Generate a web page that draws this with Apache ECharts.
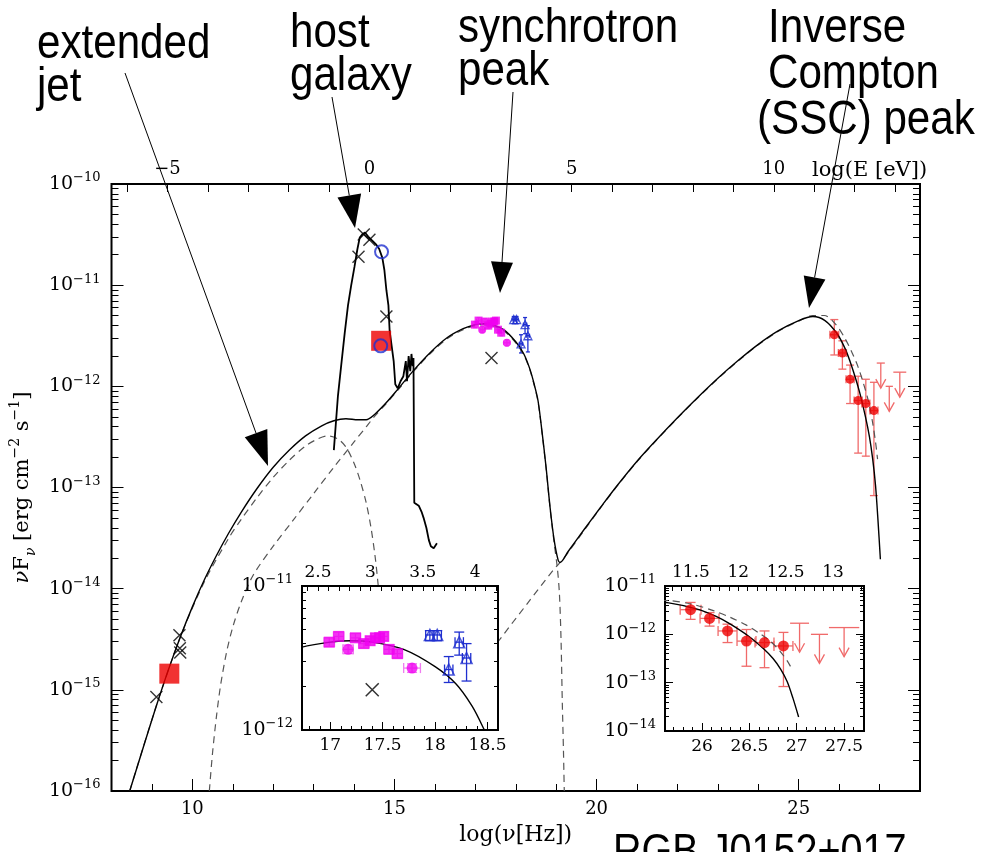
<!DOCTYPE html>
<html>
<head>
<meta charset="utf-8">
<title>RGB J0152+017</title>
<script src="https://cdn.jsdelivr.net/npm/echarts@6.0.0/dist/echarts.min.js"></script>
<style>
  html, body { margin: 0; padding: 0; background: #fff; }
  #chart { width: 990px; height: 852px; }
</style>
</head>
<body>
<div id="chart"></div>
<script>
// every pair is [log(nu / Hz), log(nuFnu / erg cm-2 s-1)]
const LOG_H_EV = -14.383 // log(E/eV) = log(nu/Hz) + LOG_H_EV

const totalModel = [
  [8.45, -16.0], [8.8, -15.55], [9.1, -15.17], [9.4, -14.81], [9.7, -14.48], [10.0, -14.18],
  [10.3, -13.91], [10.6, -13.67], [10.9, -13.45], [11.2, -13.25], [11.6, -13.01], [12.0, -12.8],
  [12.4, -12.63], [12.8, -12.49], [13.2, -12.39], [13.5, -12.34], [13.8, -12.32], [14.1, -12.33],
  [14.3, -12.33], [14.5, -12.28], [14.8, -12.16], [15.1, -12.02], [15.5, -11.83], [15.9, -11.66],
  [16.3, -11.52], [16.7, -11.43], [17.0, -11.39], [17.2, -11.38], [17.4, -11.39], [17.7, -11.44],
  [18.0, -11.56], [18.2, -11.68], [18.35, -11.83], [18.45, -11.97], [18.55, -12.14], [18.65, -12.45],
  [18.75, -12.8], [18.85, -13.2], [18.95, -13.52], [19.05, -13.72], [19.1, -13.74], [19.3, -13.63],
  [19.7, -13.41], [20.1, -13.195], [20.5, -12.985], [21.0, -12.74], [21.5, -12.52], [22.0, -12.31],
  [22.5, -12.11], [23.0, -11.92], [23.5, -11.745], [24.0, -11.585], [24.5, -11.45], [25.0, -11.35],
  [25.35, -11.31], [25.65, -11.35], [25.95, -11.48], [26.15, -11.63], [26.3, -11.79], [26.5, -12.05],
  [26.65, -12.3], [26.75, -12.5], [26.83, -12.72], [26.9, -12.98], [26.96, -13.32], [27.02, -13.71]
]
const extJetModel = [
  [8.45, -16.0], [9.1, -15.17], [9.7, -14.48], [10.3, -13.93], [10.9, -13.5], [11.2, -13.32],
  [11.6, -13.1], [12.0, -12.9], [12.4, -12.73], [12.8, -12.59], [13.1, -12.52], [13.35, -12.49],
  [13.6, -12.52], [13.8, -12.6], [14.0, -12.76], [14.15, -12.93], [14.3, -13.15], [14.42, -13.4],
  [14.52, -13.68], [14.6, -13.98], [14.68, -14.35], [14.75, -14.8]
]
const coreSyncModel = [
  [10.42, -16.0], [10.5, -15.62], [10.6, -15.25], [10.7, -14.95], [10.85, -14.62], [11.0, -14.38],
  [11.2, -14.14], [11.5, -13.87], [12.0, -13.58], [12.5, -13.32], [13.0, -13.06], [13.5, -12.8],
  [14.0, -12.55], [14.3, -12.4], [14.5, -12.3], [14.8, -12.17], [15.1, -12.03], [15.5, -11.84],
  [15.9, -11.67], [16.3, -11.53], [16.7, -11.44], [17.0, -11.4], [17.2, -11.39], [17.4, -11.4],
  [17.7, -11.45], [18.0, -11.57], [18.2, -11.69], [18.35, -11.84], [18.45, -11.98], [18.55, -12.15],
  [18.65, -12.46], [18.75, -12.81], [18.85, -13.21], [18.95, -13.55], [19.03, -13.8], [19.08, -14.05],
  [19.12, -14.5], [19.15, -15.1], [19.18, -15.6], [19.2, -16.0]
]
const sscModel = [
  [16.3, -15.2], [17.0, -14.83], [17.59, -14.51], [18.3, -14.14], [18.94, -13.81], [19.1, -13.74],
  [19.3, -13.64], [19.7, -13.42], [20.1, -13.2], [20.5, -12.99], [21.0, -12.745], [21.5, -12.525],
  [22.0, -12.315], [22.5, -12.115], [23.0, -11.925], [23.5, -11.75], [24.0, -11.59], [24.5, -11.455],
  [25.0, -11.355], [25.35, -11.3], [25.63, -11.3], [25.9, -11.38], [26.12, -11.51], [26.3, -11.65],
  [26.47, -11.81], [26.6, -11.97], [26.72, -12.14], [26.82, -12.34], [26.9, -12.55], [26.95, -12.72]
]
const hostSpectrum = [
  [13.5, -12.63], [13.6, -12.1], [13.68, -11.8], [13.77, -11.47], [13.85, -11.2], [13.93, -11.0],
  [14.01, -10.82], [14.08, -10.65], [14.14, -10.53], [14.2, -10.5], [14.27, -10.48], [14.35, -10.52],
  [14.45, -10.56], [14.55, -10.6], [14.62, -10.64], [14.7, -10.73], [14.75, -10.85], [14.8, -11.05],
  [14.85, -11.2], [14.88, -11.45], [14.93, -11.6], [14.98, -11.75], [15.02, -11.98], [15.08, -12.02],
  [15.15, -11.95], [15.22, -11.9], [15.28, -11.75], [15.31, -11.95], [15.35, -11.7], [15.39, -11.85],
  [15.42, -11.68], [15.45, -11.8], [15.47, -11.72], [15.49, -13.15], [15.6, -13.18], [15.67, -13.24],
  [15.72, -13.3], [15.79, -13.4], [15.85, -13.52], [15.9, -13.58], [15.97, -13.6], [16.05, -13.55]
]
const crossPoints = [
  [9.11, -15.07], [9.68, -14.46], [9.69, -14.59], [9.7, -14.63],
  [14.24, -10.5], [14.38, -10.55], [14.11, -10.72], [14.8, -11.31], [17.4, -11.72]
]
const openCircles = [[14.68, -10.67], [14.66, -11.6]]
const redSquares = [[9.43, -14.84], [14.67, -11.55]]
// rows: [log nu, log nuFnu, half width in log nu, lower, upper]
const xraySquares = [
  [16.99, -11.39, 0.05, -11.42, -11.36], [17.08, -11.35, 0.05, -11.38, -11.32],
  [17.24, -11.36, 0.05, -11.39, -11.33], [17.32, -11.4, 0.05, -11.43, -11.37],
  [17.38, -11.38, 0.04, -11.41, -11.35], [17.43, -11.36, 0.04, -11.39, -11.33],
  [17.47, -11.36, 0.04, -11.39, -11.33], [17.51, -11.35, 0.04, -11.38, -11.32],
  [17.56, -11.44, 0.05, -11.47, -11.41], [17.64, -11.47, 0.05, -11.5, -11.44]
]
const xrayCircles = [[17.17, -11.44, 0.05, -11.47, -11.41], [17.78, -11.57, 0.08, -11.6, -11.54]]
const hardXray = [
  [17.95, -11.34, 0.04, -11.38, -11.31], [18.02, -11.34, 0.04, -11.38, -11.31],
  [18.13, -11.58, 0.04, -11.67, -11.49], [18.23, -11.39, 0.04, -11.48, -11.32],
  [18.3, -11.5, 0.04, -11.66, -11.4]
]
const gammaPoints = [
  [25.88, -11.49, 0.11, -11.69, -11.34], [26.08, -11.67, 0.1, -11.83, -11.55],
  [26.27, -11.93, 0.1, -12.17, -11.79], [26.47, -12.14, 0.1, -12.66, -11.9],
  [26.66, -12.17, 0.1, -12.69, -11.93], [26.86, -12.24, 0.1, -13.08, -11.96]
]
// rows: [log nu, upper limit, half width]
const gammaUpper = [[27.03, -11.77, 0.1], [27.24, -12.0, 0.09], [27.5, -11.86, 0.16]]

// tick labels
const nuLabelsMain = [10, 15, 20, 25]
const eLabelsMain = [-5, 0, 5, 10]
const nuLabelsIn1 = [17, 17.5, 18, 18.5]
const eLabelsIn1 = [2.5, 3, 3.5, 4]
const nuLabelsIn2 = [26, 26.5, 27, 27.5]
const eLabelsIn2 = [11.5, 12, 12.5, 13]
const decadesMain = [-16, -15, -14, -13, -12, -11, -10]
const decadesIn1 = [-12, -11]
const decadesIn2 = [-14, -13, -12, -11]

const SERIF = 'DejaVu Serif'
const SANS = 'Liberation Sans'
const MAGENTA = '#f000f0', MAGENTA_ERR = '#f07cf0'
const BLUE = '#1f2fd0'
const RED = '#ee0000', RED_ERR = '#f06a6a'

const steps = (a, b, s) => { const out = []; for (let v = a; v <= b + 1e-9; v += s) out.push(+v.toFixed(3)); return out }
const logMinor = (lo, hi) => { const out = []; for (let n = lo; n < hi; n++) for (let k = 2; k <= 9; k++) out.push(n + Math.log10(k)); return out }
const minus = v => String(v).replace('-', '−')
const powLabel = v => '{b|10}{s|−' + Math.round(-v) + '}'
const powRich = {
  b: { fontFamily: SERIF, fontSize: 19, color: '#000', lineHeight: 25 },
  s: { fontFamily: SERIF, fontSize: 13, color: '#000', lineHeight: 13, verticalAlign: 'top' }
}

function ax(o) {
  return Object.assign({
    type: 'value', splitLine: { show: false },
    axisLine: { show: false, onZero: false },
    axisTick: { show: false }, axisLabel: { show: false }
  }, o)
}
function ticks(values, len) {
  return { show: true, inside: true, length: len, customValues: values, lineStyle: { color: '#000', width: 1 } }
}
function labels(values, size, margin, fmt, rich) {
  return { show: true, customValues: values, fontFamily: SERIF, fontSize: size, color: '#000', margin, formatter: fmt || minus, rich }
}
// one set of axes (bottom, top in eV, left, right) for a grid
function frameAxes(g, xr, yr, o) {
  const xs = [
    ax({ gridIndex: g, min: xr[0], max: xr[1], position: 'bottom', z: o.z, axisTick: ticks(o.nuMajor, o.major), axisLabel: labels(o.nuLabels, o.fs, o.xm) }),
    ax({ gridIndex: g, min: xr[0], max: xr[1], position: 'bottom', z: o.z, axisTick: ticks(o.nuMinor, o.minor) }),
    ax({ gridIndex: g, min: xr[0] + LOG_H_EV, max: xr[1] + LOG_H_EV, position: 'top', z: o.z, axisTick: ticks(o.eTicks, o.minor + 1), axisLabel: labels(o.eLabels, o.fs, o.tm) })
  ]
  const ys = [
    ax({ gridIndex: g, min: yr[0], max: yr[1], position: 'left', z: o.z, axisTick: ticks(o.decades, o.major), axisLabel: labels(o.decades, 19, o.ym, powLabel, powRich) }),
    ax({ gridIndex: g, min: yr[0], max: yr[1], position: 'left', z: o.z, axisTick: ticks(logMinor(yr[0], yr[1]), o.minor) }),
    ax({ gridIndex: g, min: yr[0], max: yr[1], position: 'right', z: o.z, axisTick: ticks(o.decades, o.major) }),
    ax({ gridIndex: g, min: yr[0], max: yr[1], position: 'right', z: o.z, axisTick: ticks(logMinor(yr[0], yr[1]), o.minor) })
  ]
  return { xs, ys }
}

const mainAx = frameAxes(0, [8, 28], [-16, -10], {
  z: 0, nuMajor: nuLabelsMain, nuMinor: steps(8, 28, 1), nuLabels: nuLabelsMain, eTicks: steps(-6, 13, 1), eLabels: eLabelsMain,
  decades: decadesMain, major: 12, minor: 7, fs: 18, xm: 9, tm: 6, ym: 11
})
const in1Ax = frameAxes(1, [16.73, 18.6], [-12, -11], {
  z: 6, nuMajor: nuLabelsIn1, nuMinor: steps(16.8, 18.6, 0.1), nuLabels: nuLabelsIn1, eTicks: steps(2.4, 4.2, 0.1), eLabels: eLabelsIn1,
  decades: decadesIn1, major: 8, minor: 4, fs: 17, xm: 7, tm: 5, ym: 9
})
const in2Ax = frameAxes(2, [25.61, 27.71], [-14, -11], {
  z: 6, nuMajor: nuLabelsIn2, nuMinor: steps(25.7, 27.7, 0.1), nuLabels: nuLabelsIn2, eTicks: steps(11.3, 13.3, 0.1), eLabels: eLabelsIn2,
  decades: decadesIn2, major: 8, minor: 4, fs: 17, xm: 7, tm: 5, ym: 9
})
mainAx.xs[0].name = 'log(ν[Hz])'
mainAx.xs[0].nameLocation = 'middle'
mainAx.xs[0].nameGap = 33
mainAx.xs[0].nameTextStyle = { fontFamily: SERIF, fontSize: 22, color: '#000' }
mainAx.ys[0].name = '{n|ν}F{sub|ν} [erg cm{sup|−2} s{sup|−1}]'
mainAx.ys[0].nameLocation = 'middle'
mainAx.ys[0].nameGap = 72
mainAx.ys[0].nameTextStyle = {
  fontFamily: SERIF, fontSize: 21, color: '#000', lineHeight: 30,
  rich: {
    n: { fontFamily: SERIF, fontSize: 21, fontStyle: 'italic', color: '#000' },
    sub: { fontFamily: SERIF, fontSize: 14, fontStyle: 'italic', color: '#000', lineHeight: 14, verticalAlign: 'bottom' },
    sup: { fontFamily: SERIF, fontSize: 14, color: '#000', lineHeight: 14, verticalAlign: 'top' }
  }
}

// axis index bases: main x 0..2 / y 0..3, inset1 x 3..5 / y 4..7, inset2 x 6..8 / y 8..11
const panes = [{ x: 0, y: 0, z: 2 }, { x: 3, y: 4, z: 7 }, { x: 6, y: 8, z: 7 }]

function errRenderer(color, cap) {
  return function (params, api) {
    const x = api.value(0), y = api.value(1), dx = api.value(2)
    const c = api.coord([x, y])
    const l = api.coord([x - dx, y])[0], r = api.coord([x + dx, y])[0]
    const b = api.coord([x, api.value(3)])[1], t = api.coord([x, api.value(4)])[1]
    const st = { stroke: color, lineWidth: 1.3, fill: null }
    const seg = (x1, y1, x2, y2) => ({ type: 'line', shape: { x1, y1, x2, y2 }, style: st })
    return {
      type: 'group', children: [
        seg(l, c[1], r, c[1]), seg(l, c[1] - cap, l, c[1] + cap), seg(r, c[1] - cap, r, c[1] + cap),
        seg(c[0], t, c[0], b), seg(c[0] - cap, t, c[0] + cap, t), seg(c[0] - cap, b, c[0] + cap, b)
      ]
    }
  }
}
function ulRenderer(color, len) {
  return function (params, api) {
    const x = api.value(0), y = api.value(1), dx = api.value(2)
    const c = api.coord([x, y])
    const l = api.coord([x - dx, y])[0], r = api.coord([x + dx, y])[0]
    const tip = c[1] + len
    const st = { stroke: color, lineWidth: 1.3, fill: null }
    return {
      type: 'group', children: [
        { type: 'line', shape: { x1: l, y1: c[1], x2: r, y2: c[1] }, style: st },
        { type: 'line', shape: { x1: c[0], y1: c[1], x2: c[0], y2: tip }, style: st },
        { type: 'polyline', shape: { points: [[c[0] - 5, tip - 9], [c[0], tip], [c[0] + 5, tip - 9]] }, style: st }
      ]
    }
  }
}

const series = []
function line(p, data, style, smooth) {
  series.push({
    type: 'line', xAxisIndex: p.x, yAxisIndex: p.y, z: p.z, data, showSymbol: false, symbol: 'none',
    smooth: smooth === undefined ? 0.3 : smooth, clip: true, lineStyle: style, silent: true
  })
}
function err(p, data, color, cap) {
  series.push({ type: 'custom', xAxisIndex: p.x, yAxisIndex: p.y, z: p.z, data, clip: true, renderItem: errRenderer(color, cap), silent: true })
}
function ul(p, data, color, len) {
  series.push({ type: 'custom', xAxisIndex: p.x, yAxisIndex: p.y, z: p.z, data, clip: true, renderItem: ulRenderer(color, len), silent: true })
}
function dots(p, data, symbol, size, itemStyle) {
  series.push({ type: 'scatter', xAxisIndex: p.x, yAxisIndex: p.y, z: p.z + 1, data, symbol, symbolSize: size, itemStyle, clip: true, silent: true })
}
const CROSS = 'path://M0,0L10,10M10,0L0,10'
const dashed = { color: '#555', width: 1.2, type: [7, 5] }
const solid = { color: '#000', width: 1.4 }

// main panel
const M = panes[0]
line(M, extJetModel, dashed)
line(M, coreSyncModel, dashed)
line(M, sscModel, dashed)
line(M, totalModel, solid)
line({ x: 0, y: 0, z: 3 }, hostSpectrum, { color: '#000', width: 1.8 }, false)
dots(M, redSquares, 'rect', 20, { color: RED })
dots(M, crossPoints, CROSS, 12, { color: 'none', borderColor: '#000', borderWidth: 1.4 })
dots(M, openCircles, 'circle', 13, { color: 'none', borderColor: BLUE, borderWidth: 2 })
err(M, xraySquares, MAGENTA_ERR, 2)
err(M, xrayCircles, MAGENTA_ERR, 2)
err(M, hardXray, BLUE, 2)
dots(M, xraySquares, 'rect', 8, { color: MAGENTA })
dots(M, xrayCircles, 'circle', 8, { color: MAGENTA })
dots(M, hardXray, 'triangle', 8, { color: 'none', borderColor: BLUE, borderWidth: 1.3 })
err(M, gammaPoints, RED_ERR, 4)
ul(M, gammaUpper, RED_ERR, 25)
dots(M, gammaPoints, 'circle', 9, { color: RED })

// inset 1: X-ray band
const A = panes[1]
line(A, totalModel, solid)
err(A, xraySquares, MAGENTA_ERR, 5)
err(A, xrayCircles, MAGENTA_ERR, 5)
err(A, hardXray, BLUE, 5)
dots(A, xraySquares, 'rect', 11, { color: MAGENTA })
dots(A, xrayCircles, 'circle', 11, { color: MAGENTA })
dots(A, hardXray, 'triangle', 11, { color: 'none', borderColor: BLUE, borderWidth: 1.5 })
dots(A, crossPoints, CROSS, 13, { color: 'none', borderColor: '#000', borderWidth: 1.5 })

// inset 2: TeV band
const B = panes[2]
line(B, sscModel, dashed)
line(B, totalModel, solid)
err(B, gammaPoints, RED_ERR, 5)
ul(B, gammaUpper, RED_ERR, 29)
dots(B, gammaPoints, 'circle', 11, { color: RED })

// annotation labels and arrows
function arrow(x1, y1, x2, y2, len, half) {
  const L = Math.hypot(x2 - x1, y2 - y1), ux = (x2 - x1) / L, uy = (y2 - y1) / L
  const bx = x2 - ux * len, by = y2 - uy * len
  return [
    { type: 'line', z: 100, shape: { x1, y1, x2: bx, y2: by }, style: { stroke: '#000', lineWidth: 1 } },
    { type: 'polygon', z: 100, shape: { points: [[x2, y2], [bx - uy * half, by + ux * half], [bx + uy * half, by - ux * half]] }, style: { fill: '#000' } }
  ]
}
function word(text, x, y, size) {
  return {
    type: 'text', x, y, scaleX: 0.86, z: 100,
    style: { text, x: 0, y: 0, fontFamily: SANS, fontSize: size || 49, fill: '#000', align: 'left', verticalAlign: 'middle' }
  }
}
const graphic = [
  word('extended', 37, 44), word('jet', 37, 87),
  word('host', 290, 33), word('galaxy', 290, 76),
  word('synchrotron', 458, 28), word('peak', 458, 71),
  word('Inverse', 768, 28), word('Compton', 768, 74), word('(SSC) peak', 757, 120),
  word('RGB J0152+017', 613, 853, 46),
  { type: 'text', x: 812, y: 171, z: 100, style: { text: 'log(E [eV])', x: 0, y: 0, fontFamily: SERIF, fontSize: 21, fill: '#000', align: 'left', verticalAlign: 'middle' } },
  ...arrow(125, 73, 268, 466, 35, 12),
  ...arrow(332, 97, 355, 228, 33, 12),
  ...arrow(513, 92, 500, 293, 31, 11),
  ...arrow(850, 84, 809, 308, 31, 11)
]

const chart = echarts.init(document.getElementById('chart'), null, { renderer: 'canvas' })
chart.setOption({
  backgroundColor: '#fff',
  animation: false,
  grid: [
    { left: 108, top: 184, width: 812, height: 607, show: true, borderColor: '#000', borderWidth: 2, backgroundColor: 'rgba(0,0,0,0)', z: 0 },
    { left: 302, top: 586, width: 196, height: 144, show: true, borderColor: '#000', borderWidth: 2, backgroundColor: '#fff', z: 5 },
    { left: 665, top: 586, width: 199, height: 145, show: true, borderColor: '#000', borderWidth: 2, backgroundColor: '#fff', z: 5 }
  ],
  xAxis: [...mainAx.xs, ...in1Ax.xs, ...in2Ax.xs],
  yAxis: [...mainAx.ys, ...in1Ax.ys, ...in2Ax.ys],
  series,
  graphic
})
</script>
</body>
</html>
